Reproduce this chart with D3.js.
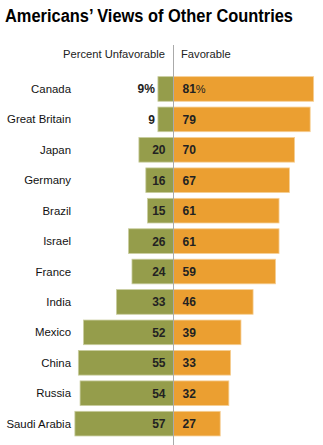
<!DOCTYPE html>
<html><head><meta charset="utf-8">
<script src="https://cdnjs.cloudflare.com/ajax/libs/d3/7.8.5/d3.min.js"></script>
<style>
html,body{margin:0;padding:0;background:#fff;}
svg text{font-family:"Liberation Sans",Arial,sans-serif;}
</style>
</head><body>
<svg id="chart" width="323" height="445"></svg>
<script>
const countries = ["Canada","Great Britain","Japan","Germany","Brazil","Israel","France","India","Mexico","China","Russia","Saudi Arabia"];
const unfavorable = [9,9,20,16,15,26,24,33,52,55,54,57];
const favorable = [81,79,70,67,61,61,59,46,39,33,32,27];
const title = "Americans\u2019 Views of Other Countries";
const headers = ["Percent Unfavorable","Favorable"];

const svg = d3.select("#chart");
const W = 323, H = 445;
const cx = 173.5;
const pxPerUnit = 1.73;

const xR = d3.scaleLinear().domain([0,100]).range([cx, cx + 100*pxPerUnit]);
const xL = d3.scaleLinear().domain([0,100]).range([cx, cx - 100*pxPerUnit]);
const y = d3.scaleBand().domain(countries).range([74.2, 438.4]).paddingInner(0.19).paddingOuter(0.08);

const green = "#959d4b", orange = "#eb9f31";

svg.append("text").attr("x",5).attr("y",22)
  .attr("font-size",18).attr("font-weight","bold").attr("fill","#000")
  .attr("textLength",288).attr("lengthAdjust","spacingAndGlyphs")
  .text(title);

svg.append("text").attr("x",165).attr("y",58).attr("text-anchor","end")
  .attr("font-size",11.2).attr("fill","#222").text(headers[0]);
svg.append("text").attr("x",181).attr("y",58).attr("text-anchor","start")
  .attr("font-size",11.2).attr("fill","#222").text(headers[1]);

const data = countries.map((c,i)=>({c, u:unfavorable[i], f:favorable[i], i}));

// bars
svg.selectAll("rect.u").data(data).join("rect").attr("class","u")
  .attr("x",d=>xL(d.u)).attr("y",d=>y(d.c))
  .attr("width",d=>cx - xL(d.u)).attr("height",y.bandwidth())
  .attr("fill",green).attr("stroke","#c9cd9f").attr("stroke-width",0.8);
svg.selectAll("rect.f").data(data).join("rect").attr("class","f")
  .attr("x",cx).attr("y",d=>y(d.c))
  .attr("width",d=>xR(d.f)-cx).attr("height",y.bandwidth())
  .attr("fill",orange).attr("stroke","#f6cf95").attr("stroke-width",0.8);

// center line
svg.append("line").attr("x1",cx).attr("x2",cx).attr("y1",45).attr("y2",H)
  .attr("stroke","#aaaaaa").attr("stroke-width",1);

// country labels
svg.selectAll("text.c").data(data).join("text").attr("class","c")
  .attr("x",71).attr("y",d=>y(d.c)+y.bandwidth()/2+4)
  .attr("text-anchor","end").attr("font-size",11.4).attr("fill","#111")
  .text(d=>d.c);

// unfavorable labels
const ul = svg.selectAll("text.ul").data(data).join("text").attr("class","ul")
  .attr("x",d=> d.u < 12 ? xL(d.u)-3 : cx-8)
  .attr("y",d=>y(d.c)+y.bandwidth()/2+4.5)
  .attr("text-anchor","end").attr("font-size",12).attr("font-weight","bold").attr("fill","#222");
ul.append("tspan").text(d=>d.u);
ul.filter(d=>d.i===0).append("tspan").text("%");

// favorable labels
const fl = svg.selectAll("text.fl").data(data).join("text").attr("class","fl")
  .attr("x",cx+9).attr("y",d=>y(d.c)+y.bandwidth()/2+4.5)
  .attr("text-anchor","start").attr("font-size",12).attr("font-weight","bold").attr("fill","#222");
fl.append("tspan").text(d=>d.f);
fl.filter(d=>d.i===0).append("tspan").attr("font-weight","normal").attr("font-size",11).text("%");
</script>
</body></html>
